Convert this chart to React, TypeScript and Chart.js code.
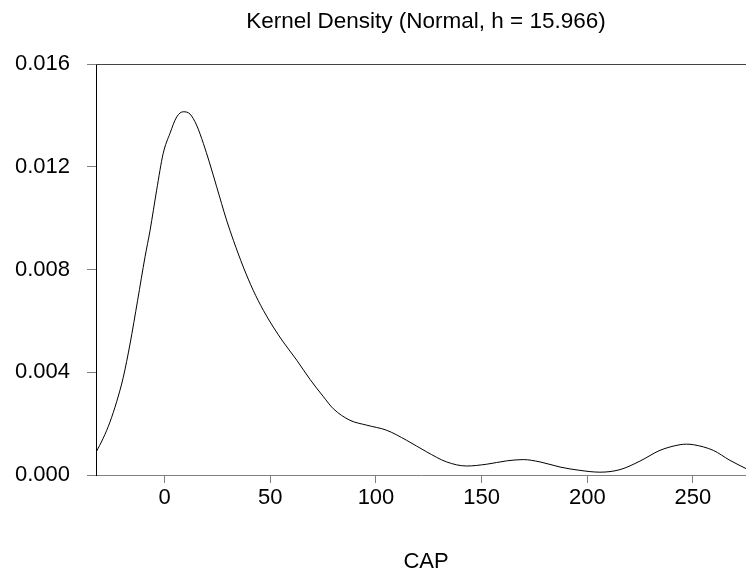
import React, { useEffect, useRef } from "react";
import { Chart, registerables } from "chart.js";

Chart.register(...registerables);

const TITLE = "Kernel Density (Normal, h = 15.966)";
const X_LABEL = "CAP";

const capValues = [
  -32.5, -29.1, -25.9, -22.7, -19.6, -16.4, -12.8, -9.3, -6.9, -3.8, -0.7,
  2.5, 5.7, 8.8, 12.0, 15.1, 18.3, 21.1, 24.6, 29.3, 32.5, 37.2, 41.9, 46.7,
  51.4, 56.1, 62.5, 68.8, 75.1, 79.8, 87.7, 95.6, 105.1, 114.5, 124.0, 133.4,
  142.9, 152.4, 161.8, 169.7, 177.6, 187.1, 196.5, 206.0, 215.5, 224.9, 234.4,
  243.9, 247.0, 250.2, 259.6, 267.5, 275.1,
];

const densityValues = [
  0.00088, 0.00143, 0.00206, 0.00286, 0.0038, 0.0051, 0.0068, 0.00849,
  0.00953, 0.01109, 0.01252, 0.0133, 0.01394, 0.01414, 0.01405, 0.01362,
  0.01291, 0.01219, 0.01122, 0.00992, 0.00914, 0.0081, 0.00719, 0.00641,
  0.00576, 0.00518, 0.00447, 0.00372, 0.00305, 0.00258, 0.00213, 0.00194,
  0.00174, 0.00135, 0.0009, 0.00051, 0.00035, 0.00042, 0.00055, 0.0006,
  0.00051, 0.00031, 0.00018, 0.00011, 0.00021, 0.00054, 0.00096, 0.00118,
  0.0012, 0.00118, 0.00096, 0.00057, 0.00025,
];

const xTicks = [0, 50, 100, 150, 200, 250];
const yTicks = [0, 0.004, 0.008, 0.012, 0.016];

const FONT = "'Liberation Sans', Arial, Helvetica, sans-serif";

const decorPlugin = {
  id: "decor",
  afterDraw(chart: any) {
    const { ctx, chartArea } = chart;
    ctx.save();
    ctx.strokeStyle = "#444444";
    ctx.lineWidth = 1;
    ctx.beginPath();
    ctx.moveTo(chartArea.left, Math.round(chartArea.top) + 0.5);
    ctx.lineTo(chartArea.right, Math.round(chartArea.top) + 0.5);
    ctx.stroke();
    ctx.fillStyle = "#000000";
    ctx.textAlign = "center";
    ctx.textBaseline = "alphabetic";
    ctx.font = `22.5px ${FONT}`;
    ctx.fillText(TITLE, 426, 28);
    ctx.font = `22px ${FONT}`;
    ctx.fillText(X_LABEL, 426, 568);
    ctx.restore();
  },
};

export default function App() {
  const ref = useRef<HTMLCanvasElement | null>(null);

  useEffect(() => {
    if (!ref.current) return;
    const chart = new Chart(ref.current, {
      type: "line",
      data: {
        datasets: [
          {
            data: capValues.map((x, i) => ({ x, y: densityValues[i] })),
            borderColor: "#000000",
            borderWidth: 1,
            pointRadius: 0,
            fill: false,
            cubicInterpolationMode: "monotone",
          },
        ],
      },
      options: {
        animation: false,
        responsive: false,
        devicePixelRatio: 1,
        layout: { padding: { top: 64, left: 0, right: 0, bottom: 0 } },
        plugins: {
          legend: { display: false },
          tooltip: { enabled: false },
          title: { display: false },
        },
        scales: {
          x: {
            type: "linear",
            position: "bottom",
            min: -32.5,
            max: 275.1,
            afterBuildTicks: (s: any) => {
              s.ticks = xTicks.map((v) => ({ value: v }));
            },
            afterFit: (s: any) => {
              s.height = 99;
            },
            grid: {
              drawOnChartArea: false,
              drawTicks: true,
              tickLength: 8,
              color: "#808080",
            },
            border: { display: true, color: "#808080", width: 1 },
            ticks: {
              color: "#000000",
              font: { family: FONT, size: 22 },
              padding: 2,
              maxRotation: 0,
              autoSkip: false,
              callback: (v: any) => String(v),
            },
          },
          y: {
            type: "linear",
            min: 0,
            max: 0.016,
            afterBuildTicks: (s: any) => {
              s.ticks = yTicks.map((v) => ({ value: v }));
            },
            afterFit: (s: any) => {
              s.width = 96;
            },
            grid: {
              drawOnChartArea: false,
              drawTicks: true,
              tickLength: 9,
              color: "#808080",
            },
            border: { display: true, color: "#000000", width: 1 },
            ticks: {
              color: "#000000",
              font: { family: FONT, size: 22 },
              padding: 17,
              autoSkip: false,
              callback: (v: any) => Number(v).toFixed(3),
            },
          },
        },
      },
      plugins: [decorPlugin],
    });
    return () => chart.destroy();
  }, []);

  return (
    <div
      style={{
        position: "absolute",
        left: 0,
        top: 0,
        width: 746,
        height: 574,
        background: "#ffffff",
      }}
    >
      <canvas
        ref={ref}
        width={746}
        height={574}
        style={{ display: "block", width: 746, height: 574 }}
      />
    </div>
  );
}
